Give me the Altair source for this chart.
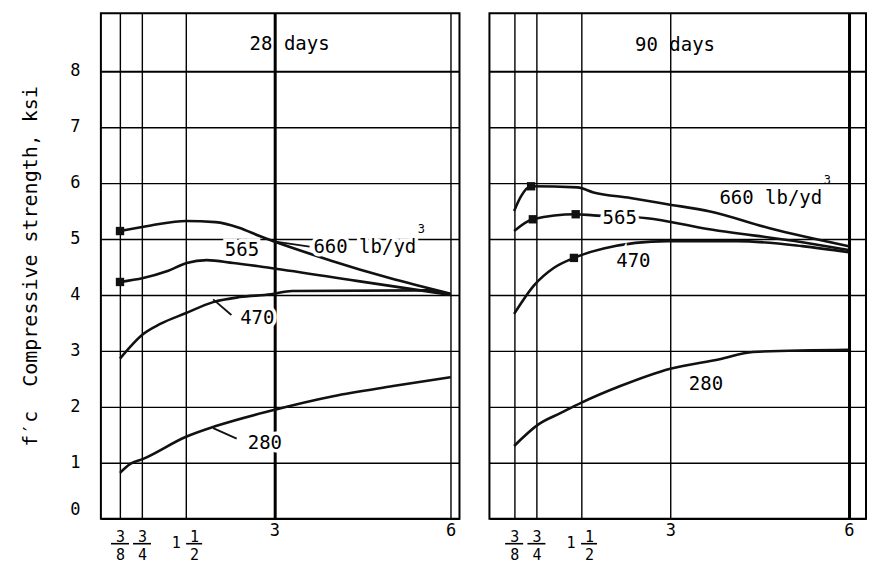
import altair as alt
import pandas as pd

FONT = "DejaVu Sans Mono"

# ---- 28 days: compressive strength (ksi) vs max aggregate size (in.)
X28_660 = [0.375, 0.9, 1.5, 2.0, 2.4, 2.75, 3.94, 4.96, 6.0]
Y28_660 = [5.14, 5.24, 5.32, 5.30, 5.20, 5.05, 4.62, 4.30, 4.02]
X28_565 = [0.375, 0.77, 1.17, 1.51, 1.85, 2.30, 2.94, 4.40, 6.0]
Y28_565 = [4.23, 4.30, 4.42, 4.57, 4.62, 4.57, 4.48, 4.25, 4.00]
X28_470 = [0.375, 0.77, 1.06, 1.49, 1.96, 2.41, 2.94, 3.3, 5.6, 6.0]
Y28_470 = [2.86, 3.30, 3.48, 3.67, 3.87, 3.96, 4.01, 4.07, 4.08, 4.00]
X28_280 = [0.375, 0.55, 0.77, 1.49, 2.02, 2.94, 4.0, 5.02, 6.0]
Y28_280 = [0.82, 0.98, 1.07, 1.46, 1.66, 1.93, 2.19, 2.37, 2.53]

# ---- 90 days
X90_660 = [0.375, 0.49, 0.66, 1.44, 1.71, 2.33, 2.95, 3.67, 4.67, 6.0]
Y90_660 = [5.50, 5.76, 5.94, 5.92, 5.83, 5.73, 5.62, 5.49, 5.19, 4.87]
X90_565 = [0.375, 0.69, 1.41, 1.71, 2.61, 3.55, 5.22, 6.0]
Y90_565 = [5.14, 5.35, 5.44, 5.42, 5.37, 5.19, 4.94, 4.80]
X90_470 = [0.375, 0.71, 1.04, 1.38, 1.88, 2.95, 4.12, 5.22, 6.0]
Y90_470 = [3.66, 4.17, 4.48, 4.66, 4.83, 4.96, 4.96, 4.87, 4.76]
X90_280 = [0.375, 0.79, 1.16, 1.50, 2.16, 3.0, 3.83, 4.39, 6.0]
Y90_280 = [1.30, 1.69, 1.89, 2.07, 2.37, 2.68, 2.85, 2.98, 3.02]

# ---- plotted data-point markers
MARK28_X = [0.375, 0.375]
MARK28_Y = [5.14, 4.23]
MARK90_X = [0.66, 1.41, 0.69, 1.38]
MARK90_Y = [5.94, 5.44, 5.35, 4.66]

# ---- in-plot labels
LAB28_TEXT = ["565", "660 lb/yd", "470", "280"]
LAB28_X = [2.45, 4.54, 2.71, 2.84]
LAB28_Y = [4.80, 4.85, 3.59, 1.36]
LAB90_TEXT = ["660 lb/yd", "565", "470", "280"]
LAB90_X = [4.69, 2.15, 2.38, 3.60]
LAB90_Y = [5.73, 5.37, 4.60, 2.41]
SUP28_X, SUP28_Y = [5.50], [5.17]
SUP90_X, SUP90_Y = [5.64], [6.06]
HEAD28 = ["28 days"]
HEAD28_X, HEAD28_Y = [3.26], [8.49]
HEAD90 = ["90 days"]
HEAD90_X, HEAD90_Y = [3.08], [8.47]

# leader strokes from curves to their labels (28 days)
LEAD28_X = [1.96, 1.96, 2.96]
LEAD28_Y = [3.92, 1.62, 4.96]
LEAD28_X2 = [2.27, 2.36, 3.60]
LEAD28_Y2 = [3.64, 1.43, 4.86]

X_TICKS = [0.375, 0.75, 1.5, 3, 6]
FRAC_TICKS = [0.375, 0.75]      # pure fractions: 3/8, 3/4
MIXED_TICKS = [1.5]             # mixed number: 1 1/2
MIXED_WHOLE = ["1"]
Y_TICKS = [0, 1, 2, 3, 4, 5, 6, 7, 8]
Y_DOMAIN = [0, 9.03]
X28_DOMAIN = [0.05, 6.15]
X90_DOMAIN = [-0.04, 6.29]
PLOT_H = 506


def curves(series):
    rows = []
    for mix, xs, ys in series:
        for a, b in zip(xs, ys):
            rows.append({"mix": mix, "x": a, "y": b})
    return pd.DataFrame(rows)


def labels(texts, xs, ys):
    return pd.DataFrame({"t": texts, "x": xs, "y": ys})


NB = "\u00a0"
# numerator / denominator as two lines; the fraction bar is drawn as a rule
LABEL_EXPR = (
    "datum.value == 0.375 ? ['3', '8'] : "
    "datum.value == 0.75 ? ['3', '4'] : "
    "datum.value == 1.5 ? ['1', '2'] : "
    "datum.value == 3 ? '3' : '6'"
)


def panel(curve_df, mark_df, lab_df, sup_df, head_df, lead_df, xdomain, width, left,
          thick_x):
    xs = alt.Scale(domain=xdomain, nice=False, zero=False)
    ys = alt.Scale(domain=Y_DOMAIN, nice=False, zero=False)
    x_axis = alt.Axis(
        values=X_TICKS, labelExpr=LABEL_EXPR, title=None, grid=True,
        gridColor="black",
        gridWidth={"condition": {"test": f"datum.value == {thick_x}", "value": 3}, "value": 1.4},
        gridOpacity=1, domain=False, ticks=False, labelFont=FONT,
        labelFontSize={"condition": {"test": "datum.value >= 3", "value": 17}, "value": 15},
        labelPadding={"condition": {"test": "datum.value >= 3", "value": 4}, "value": 11},
        labelOffset={"condition": {"test": "datum.value == 1.5", "value": 8},
                     "value": 0},
        labelLineHeight=18, labelColor="black",
        labelOverlap=False, labelFlush=False, labelBound=False,
    )
    y_axis = alt.Axis(
        values=Y_TICKS, grid=True, gridColor="black", gridOpacity=1,
        gridWidth={"condition": {"test": "datum.value == 8", "value": 2.2}, "value": 1.4},
        domain=False, ticks=False, labels=left, labelFont=FONT, labelFontSize=17,
        labelPadding=21, labelColor="black",
        labelOffset={"condition": {"test": "datum.value == 0", "value": -9}, "value": 0},
        title=f"f\u2032c{NB}{NB}Compressive strength, ksi" if left else None,
        titleFont=FONT, titleFontSize=20, titleFontWeight="normal",
        titlePadding=29, titleColor="black",
    )
    X = alt.X("x:Q", scale=xs, axis=x_axis)
    Y = alt.Y("y:Q", scale=ys, axis=y_axis)
    lines = alt.Chart(curve_df).mark_line(
        interpolate="monotone", color="#111", strokeWidth=2.6
    ).encode(x=X, y=Y, detail="mix:N")
    marks = alt.Chart(mark_df).mark_point(
        shape="square", filled=True, color="#111", size=70, opacity=1
    ).encode(x=X, y=Y)
    halo = alt.Chart(lab_df).mark_text(
        font=FONT, fontSize=19, color="white", stroke="white", strokeWidth=7,
        align="center", baseline="middle",
    ).encode(x=X, y=Y, text="t:N")
    text = alt.Chart(lab_df).mark_text(
        font=FONT, fontSize=19, color="black", align="center", baseline="middle",
    ).encode(x=X, y=Y, text="t:N")
    sup = alt.Chart(sup_df).mark_text(
        font=FONT, fontSize=12, color="black", align="center", baseline="middle",
    ).encode(x=X, y=Y, text="t:N")
    head = alt.Chart(head_df).mark_text(
        font=FONT, fontSize=19, color="black", align="center", baseline="middle",
    ).encode(x=X, y=Y, text="t:N")
    # fraction bars of the x tick labels, and the whole part of 1 1/2
    bar_y = alt.value(PLOT_H + 25)
    frac_bars = alt.Chart(pd.DataFrame({"x": FRAC_TICKS})).mark_rule(
        color="black", strokeWidth=1.6, xOffset=-9, x2Offset=9,
    ).encode(x=X, x2="x:Q", y=bar_y)
    mixed_bar = alt.Chart(pd.DataFrame({"x": MIXED_TICKS})).mark_rule(
        color="black", strokeWidth=1.6, xOffset=0, x2Offset=16,
    ).encode(x=X, x2="x:Q", y=bar_y)
    whole = alt.Chart(pd.DataFrame({"x": MIXED_TICKS, "t": MIXED_WHOLE})).mark_text(
        font=FONT, fontSize=15, color="black", align="center", baseline="middle",
        xOffset=-10,
    ).encode(x=X, y=alt.value(PLOT_H + 24), text="t:N")
    layers = [lines, marks, halo, text, sup, head, frac_bars, mixed_bar, whole]
    if lead_df is not None:
        lead = alt.Chart(lead_df).mark_rule(color="#111", strokeWidth=1.8).encode(
            x=X, y=Y, x2="x2:Q", y2="y2:Q",
        )
        layers.append(lead)
    return alt.layer(*layers).properties(width=width, height=PLOT_H)


c28 = curves([("660", X28_660, Y28_660), ("565", X28_565, Y28_565),
              ("470", X28_470, Y28_470), ("280", X28_280, Y28_280)])
c90 = curves([("660", X90_660, Y90_660), ("565", X90_565, Y90_565),
              ("470", X90_470, Y90_470), ("280", X90_280, Y90_280)])
m28 = pd.DataFrame({"x": MARK28_X, "y": MARK28_Y})
m90 = pd.DataFrame({"x": MARK90_X, "y": MARK90_Y})

lead28 = pd.DataFrame({"x": LEAD28_X, "y": LEAD28_Y, "x2": LEAD28_X2, "y2": LEAD28_Y2})

p28 = panel(c28, m28, labels(LAB28_TEXT, LAB28_X, LAB28_Y),
            labels(["3"], SUP28_X, SUP28_Y), labels(HEAD28, HEAD28_X, HEAD28_Y),
            lead28, X28_DOMAIN, 359, True, 3)
p90 = panel(c90, m90, labels(LAB90_TEXT, LAB90_X, LAB90_Y),
            labels(["3"], SUP90_X, SUP90_Y), labels(HEAD90, HEAD90_X, HEAD90_Y),
            None, X90_DOMAIN, 377, False, 6)

chart = alt.hconcat(p28, p90, spacing=28).properties(
    padding={"left": 11, "top": 4, "right": 0, "bottom": 0},
    background="white",
).configure_view(stroke="black", strokeWidth=2)

chart.save("out.html", embed_options={"renderer": "svg", "actions": False})
